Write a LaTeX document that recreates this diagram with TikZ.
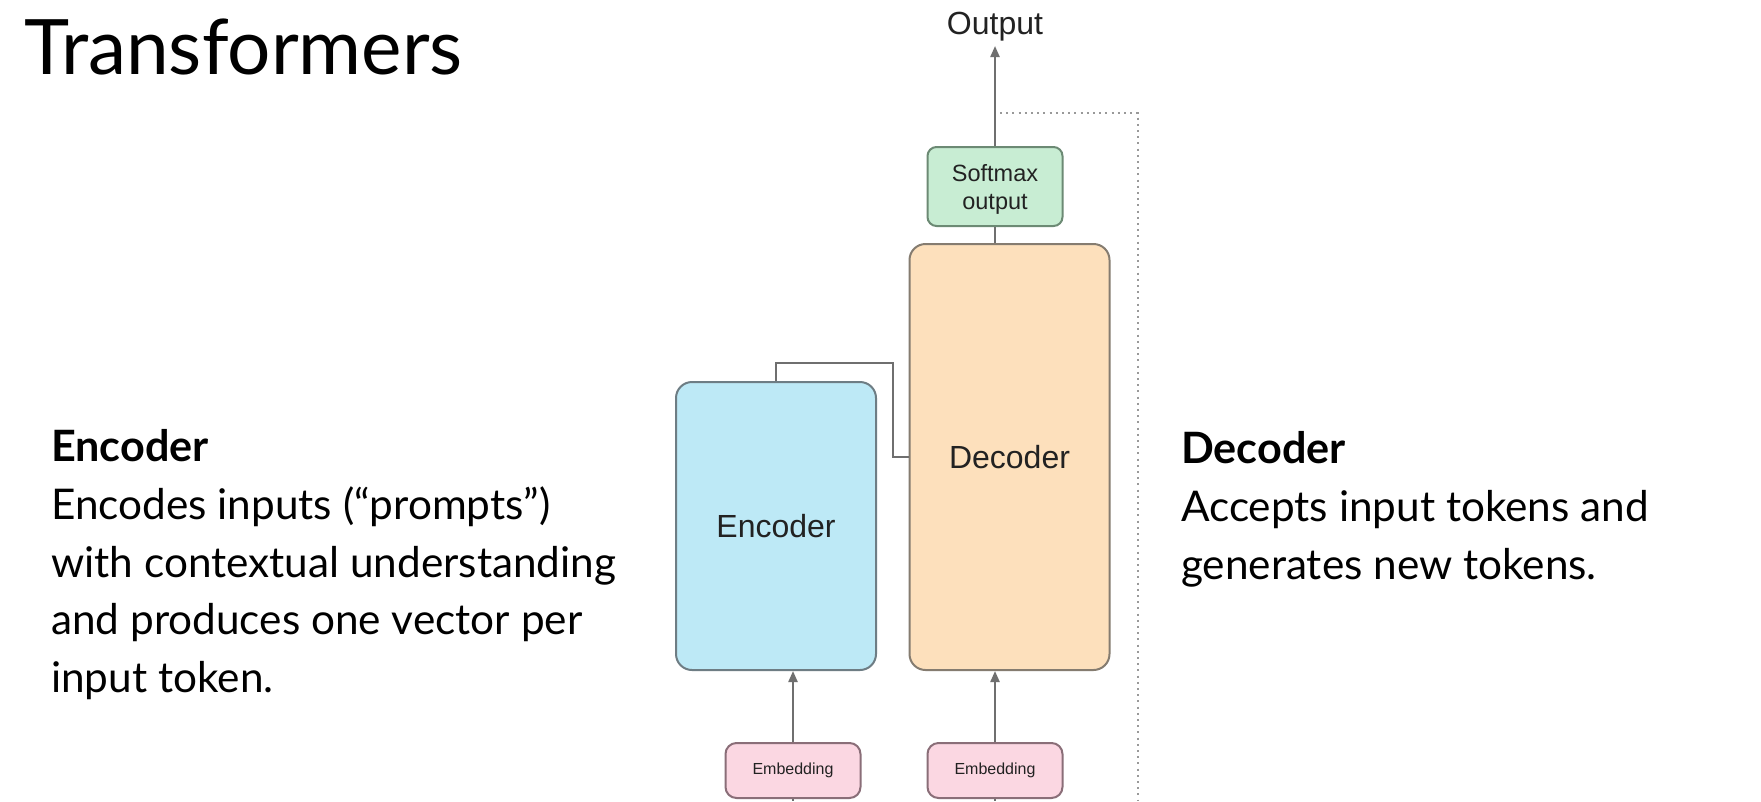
\documentclass[tikz,border=0pt]{standalone}
\usepackage{fontspec}
\setmainfont{Lato}
\newfontfamily\diafont{Liberation Sans}
\usetikzlibrary{arrows.meta}
\definecolor{encfill}{HTML}{BDE9F6}
\definecolor{encdraw}{HTML}{6E7D84}
\definecolor{decfill}{HTML}{FDE0BC}
\definecolor{decdraw}{HTML}{857C70}
\definecolor{smfill}{HTML}{C8EDD3}
\definecolor{smdraw}{HTML}{6C8A74}
\definecolor{embfill}{HTML}{FBD7E2}
\definecolor{embdraw}{HTML}{8A6E78}
\definecolor{linegray}{HTML}{6F6F6F}
\definecolor{dotgray}{HTML}{999999}
\definecolor{boxtext}{HTML}{222222}
\tikzset{
  blockbox/.style={draw, line width=2pt, rounded corners=16pt, inner sep=0pt,
    minimum width=200pt, text=boxtext, font=\diafont\fontsize{32}{38}\selectfont},
  smallbox/.style={draw, line width=2pt, rounded corners=9pt, inner sep=0pt,
    minimum width=135pt, text=boxtext, align=center},
  conn/.style={draw=linegray, line width=2.2pt},
  arr/.style={conn, -{Triangle[length=11pt,width=9pt]}},
  dotline/.style={draw=dotgray, line width=2pt, dash pattern=on 2pt off 4.2pt},
  bodytext/.style={anchor=base west, inner sep=0pt, font=\fontsize{42.3}{50}\selectfont, text=black},
  headtext/.style={bodytext, font=\bfseries\fontsize{43.2}{50}\selectfont},
}
\begin{document}
\begin{tikzpicture}[x=1pt,y=-1pt]
\useasboundingbox[fill=white] (0,0) rectangle (1761,801);

% title
\node[anchor=base west, inner sep=0pt, font=\fontsize{76.5}{90}\selectfont] (title) at (24,74) {Transformers};

% left text
\node[headtext] (lh) at (51,461) {Encoder};
\node[bodytext] (l1) at (51,519) {Encodes inputs (“prompts”)};
\node[bodytext] (l2) at (51,577) {with contextual understanding};
\node[bodytext] (l3) at (51,634) {and produces one vector per};
\node[bodytext] (l4) at (51,692) {input token.};

% right text
\node[headtext] (rh) at (1181,463) {Decoder};
\node[bodytext] (r1) at (1181,521) {Accepts input tokens and};
\node[bodytext] (r2) at (1181,579) {generates new tokens.};

% diagram
\node[blockbox, fill=encfill, draw=encdraw, minimum height=288pt] (enc) at (776,526) {Encoder};
\node[blockbox, fill=decfill, draw=decdraw, minimum height=426pt] (dec) at (1009.5,457) {Decoder};
\node[smallbox, fill=smfill, draw=smdraw, minimum height=79pt, text depth=0pt,
      font=\diafont\fontsize{23.5}{28}\selectfont] (sm) at (995,186.5) {Softmax\\output};
\node[smallbox, fill=embfill, draw=embdraw, minimum height=55pt, rounded corners=11pt,
      font=\diafont\fontsize{16}{19}\selectfont] (emb1) at (793,770.5) {Embedding};
\node[smallbox, fill=embfill, draw=embdraw, minimum height=55pt, rounded corners=11pt,
      font=\diafont\fontsize{16}{19}\selectfont] (emb2) at (995,770.5) {Embedding};
\node[anchor=base, inner sep=0pt, text=boxtext, font=\diafont\fontsize{32}{38}\selectfont] (out) at (995,34) {Output};

\coordinate (c1) at (893,363);
\coordinate (b1) at (793,801);
\coordinate (b2) at (995,801);
\coordinate (otip) at (995,46);
\coordinate (d0) at (1000,113);
\coordinate (d1) at (1138,113);
\coordinate (d2) at (1138,801);

\draw[conn] (enc.north) |- (c1) |- (dec.west);
\draw[arr] (emb1.north) -- (emb1.north |- enc.south);
\draw[arr] (emb2.north) -- (emb2.north |- dec.south);
\draw[conn] (emb1.south) -- (b1);
\draw[conn] (emb2.south) -- (b2);
\draw[conn] (sm.south |- dec.north) -- (sm.south);
\draw[arr] (sm.north) -- (otip);
\draw[dotline] (d0) -- (d1) -- (d2);
\end{tikzpicture}
\end{document}
